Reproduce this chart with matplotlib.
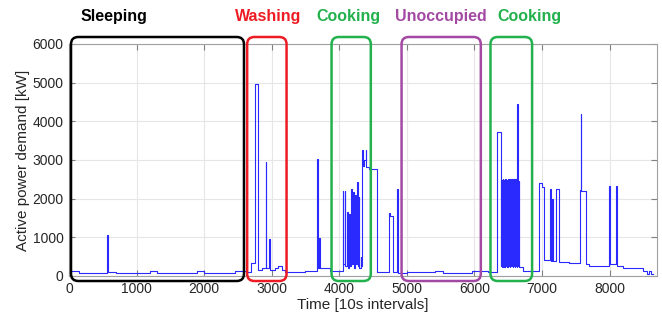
import matplotlib.pyplot as plt
from matplotlib.patches import FancyBboxPatch

plt.rcParams['font.family'] = ['Liberation Sans', 'DejaVu Sans']

# step breakpoints of the power trace (time in 10 s intervals, power in kW)
time_pts = [0, 10, 150, 570, 580, 700, 1200, 1300, 1900, 2000, 2450, 2620,
            2700, 2755, 2800, 2850, 2910, 2920, 2960, 2970, 3050, 3100, 3150, 3200,
            3500, 3670, 3680, 3700, 3710, 3860,
            4050, 4060, 4080, 4090, 4115, 4125, 4145, 4155, 4175, 4185, 4210, 4220,
            4235, 4245, 4260, 4270, 4285, 4295, 4315, 4325, 4340, 4350, 4370, 4390,
            4400, 4440, 4560, 4735, 4745, 4775, 4790, 4855, 4865, 5000, 5410, 5540,
            5970, 6200, 6340, 6390]
power_pts = [1300, 130, 70, 1060, 110, 70, 130, 70, 140, 80, 120, 110,
             340, 4960, 150, 200, 2950, 200, 950, 150, 200, 250, 150, 100,
             140, 3020, 200, 980, 200, 140,
             2200, 300, 2200, 250, 1650, 200, 1600, 250, 2250, 300, 2180, 200,
             2100, 300, 2420, 250, 2050, 200, 500, 250, 3250, 2850, 3000, 3250,
             2820, 2760, 100, 1640, 1550, 1550, 100, 2240, 90, 100, 140, 70,
             140, 100, 3730, 250]

# rapid on/off cycling during the second cooking period
burst_time = [6400, 6408, 6416, 6424, 6432, 6440, 6448, 6456, 6464, 6472,
              6480, 6488, 6496, 6504, 6512, 6520, 6528, 6536, 6544, 6552,
              6560, 6568, 6576, 6584, 6592, 6600, 6608, 6616, 6624, 6632,
              6637, 6642, 6650, 6658, 6666]
burst_power = [2480, 240, 2500, 250, 2490, 240, 2510, 260, 2500, 250,
               2480, 240, 2500, 250, 2510, 240, 2490, 250, 2500, 260,
               2480, 240, 2500, 250, 2520, 240, 2500, 250, 2490, 240,
               4440, 2470, 250, 2450, 240]

tail_time = [6670, 6720, 6950, 7000, 7030, 7120, 7135, 7150, 7160, 7210, 7250,
             7400, 7560, 7575, 7585, 7655, 7700, 7990, 8000, 8100, 8110, 8200,
             8500, 8560, 8580, 8620, 8650]
tail_power = [220, 130, 2400, 2300, 410, 2260, 380, 2000, 380, 2240, 370,
              330, 2220, 4200, 2200, 310, 270, 2330, 300, 2320, 260, 200,
              140, 60, 140, 60, 60]

# activity periods (x range in 10 s intervals) and label centres
period_names = ['Sleeping', 'Washing', 'Cooking', 'Unoccupied', 'Cooking']
period_start = [30, 2637, 3886, 4922, 6238]
period_end = [2590, 3220, 4467, 6095, 6854]
label_x = [666, 2944, 4142, 5503, 6820]
period_colors = ['#000000', '#ed1c24', '#22b14c', '#a349a4', '#22b14c']

fig = plt.figure(figsize=(6.62, 3.22), dpi=100)
ax = fig.add_axes([0.1042, 0.1429, 0.888, 0.7205])

t = time_pts + burst_time + tail_time
p = power_pts + burst_power + tail_power
ax.plot(t, p, drawstyle='steps-post', color='#2a2aff', lw=0.8)

ax.set_xlim(0, 8700)
ax.set_ylim(0, 6000)
ax.set_xticks(range(0, 9000, 1000))
ax.set_yticks(range(0, 7000, 1000))
ax.grid(True, color='#e6e6e6', lw=0.8)
ax.set_axisbelow(True)
ax.tick_params(direction='in', top=True, right=True, length=4, color='#808080',
               labelsize=10, labelcolor='#262626', pad=4)
for s in ax.spines.values():
    s.set_color('#a0a0a0')
    s.set_linewidth(0.8)
ax.set_xlabel('Time [10s intervals]', fontsize=11, color='#262626', labelpad=2)
ax.set_ylabel('Active power demand [kW]', fontsize=11, color='#262626', labelpad=2)

# rounded boxes around periods, drawn in figure coordinates
fig.canvas.draw()
inv = fig.transFigure.inverted()
y0 = 1 - 281 / 322
y1 = 1 - 37 / 322
for name, a, b, lx, c in zip(period_names, period_start, period_end, label_x, period_colors):
    xa = inv.transform(ax.transData.transform((a, 0)))[0]
    xb = inv.transform(ax.transData.transform((b, 0)))[0]
    xl = inv.transform(ax.transData.transform((lx, 0)))[0]
    box = FancyBboxPatch((xa, y0), xb - xa, y1 - y0,
                         boxstyle='round,pad=0,rounding_size=0.011',
                         mutation_aspect=662 / 322, transform=fig.transFigure,
                         fill=False, edgecolor=c, lw=1.8, clip_on=False)
    fig.patches.append(box)
    fig.text(xl, 1 - 16 / 322, name, color=c, fontsize=11.5,
             fontweight='bold', ha='center', va='center')

fig.savefig('out.png', dpi=100)
